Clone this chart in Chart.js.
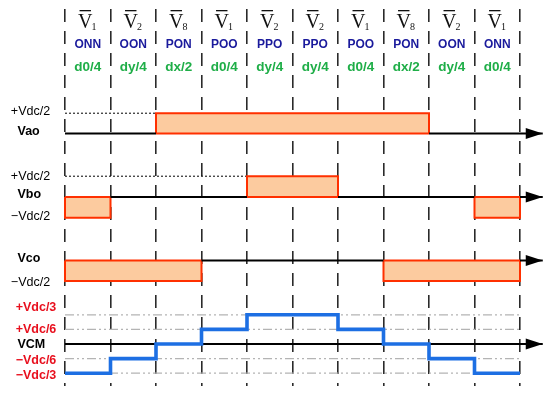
<!DOCTYPE html>
<html>
<head>
<meta charset="utf-8">
<script src="https://cdn.jsdelivr.net/npm/chart.js@4/dist/chart.umd.min.js"></script>
<style>
  html, body { margin: 0; padding: 0; background: #fff; }
  #wrap { position: relative; width: 550px; height: 393px; }
</style>
</head>
<body>
<div id="wrap"><canvas id="chart"></canvas></div>
<script>
// one entry per switching interval, left to right
const vectors = ["1", "2", "8", "1", "2", "2", "1", "8", "2", "1"];
const states = ["ONN", "OON", "PON", "POO", "PPO", "PPO", "POO", "PON", "OON", "ONN"];
const duties = ["d0/4", "dy/4", "dx/2", "d0/4", "dy/4", "dy/4", "d0/4", "dx/2", "dy/4", "d0/4"];

// pole voltages in units of Vdc/2
const vao = [0, 0, 1, 1, 1, 1, 1, 1, 0, 0];
const vbo = [-1, 0, 0, 0, 1, 1, 0, 0, 0, -1];
const vco = [-1, -1, -1, 0, 0, 0, 0, -1, -1, -1];
// common mode voltage in units of Vdc/6
const vcm = [-2, -1, 0, 1, 2, 2, 1, 0, -1, -2];
const vcmLevels = [2, 1, -1, -2];

// layout
const PLOT_LEFT = 65;
const SEG_PX = 45.5;
const PLOT_TOP = 9;
const PLOT_BOTTOM = 386;
const AXIS_END = 10.5;
const ROWS = {
  yA: { base: 133.5, unit: 20.3 },
  yB: { base: 197, unit: 20.8 },
  yC: { base: 260.5, unit: 20.6 },
  yM: { base: 344, unit: 14.6 },
};

const RED = "#ff3000";
const PEACH = "#fccb9f";
const BLUE = "#1d6fe3";
const LABEL_RED = "#e8101e";

const sideLabels = [
  { axis: "yA", value: 1, text: "+Vdc/2", kind: "plain", dy: -2 },
  { axis: "yA", value: 0, text: "Vao", kind: "name", dy: -2 },
  { axis: "yB", value: 1, text: "+Vdc/2", kind: "plain", dy: 0 },
  { axis: "yB", value: 0, text: "Vbo", kind: "name", dy: -2 },
  { axis: "yB", value: -1, text: "\u2212Vdc/2", kind: "plain", dy: -1 },
  { axis: "yC", value: 0, text: "Vco", kind: "name", dy: -2 },
  { axis: "yC", value: -1, text: "\u2212Vdc/2", kind: "plain", dy: 1 },
  { axis: "yM", value: 2, text: "+Vdc/3", kind: "red", dy: -7 },
  { axis: "yM", value: 1, text: "+Vdc/6", kind: "red", dy: 0 },
  { axis: "yM", value: 0, text: "VCM", kind: "name", dy: 1 },
  { axis: "yM", value: -1, text: "\u2212Vdc/6", kind: "red", dy: 1.5 },
  { axis: "yM", value: -2, text: "\u2212Vdc/3", kind: "red", dy: 2.5 },
];

function rowScale(id) {
  const r = ROWS[id];
  return {
    type: "linear",
    display: false,
    min: -(PLOT_BOTTOM - r.base) / r.unit,
    max: (r.base - PLOT_TOP) / r.unit,
  };
}

function line(axis, data, extra) {
  return Object.assign({
    type: "line",
    yAxisID: axis,
    data: data,
    pointRadius: 0,
    tension: 0,
    fill: false,
    clip: false,
    borderWidth: 2,
    borderColor: "#000",
  }, extra);
}

// filled blocks for runs of equal non-zero level
function pulses(levels, axis) {
  const out = [];
  let i = 0;
  while (i < levels.length) {
    const v = levels[i];
    let j = i;
    while (j < levels.length && levels[j] === v) j++;
    if (v !== 0) {
      out.push(line(axis, [{ x: i, y: 0 }, { x: i, y: v }, { x: j, y: v }, { x: j, y: 0 }], {
        borderColor: RED,
        backgroundColor: PEACH,
        fill: { value: 0 },
        order: 4,
      }));
    }
    i = j;
  }
  return out;
}

// black time axis, red where it is the edge of a block
function timeAxis(levels, axis) {
  const pts = levels.map((_, i) => ({ x: i, y: 0 }));
  pts.push({ x: levels.length, y: 0 }, { x: AXIS_END, y: 0 });
  return line(axis, pts, {
    isAxis: true,
    order: 2,
    segment: {
      borderColor: ctx => (levels[ctx.p0DataIndex] ? RED : "#000"),
    },
  });
}

function dottedRef(levels, axis) {
  const stop = levels.indexOf(1);
  return line(axis, [{ x: 0, y: 1 }, { x: stop, y: 1 }], {
    borderWidth: 1,
    borderDash: [2, 2],
    order: 5,
  });
}

const vcmSteps = vcm.map((v, i) => ({ x: i, y: v }));
vcmSteps.push({ x: vcm.length, y: vcm[vcm.length - 1] });

const datasets = [
  line("yM", vcmSteps, { borderColor: BLUE, borderWidth: 3.6, stepped: "before", order: 1 }),
  timeAxis(vao, "yA"),
  timeAxis(vbo, "yB"),
  timeAxis(vco, "yC"),
  timeAxis(vcm.map(() => 0), "yM"),
  ...pulses(vao, "yA"),
  ...pulses(vbo, "yB"),
  ...pulses(vco, "yC"),
  dottedRef(vao, "yA"),
  dottedRef(vbo, "yB"),
  ...vcmLevels.map(v => line("yM", [{ x: 0, y: v }, { x: vcm.length, y: v }], {
    borderColor: "#b4b4b4",
    borderWidth: 1.2,
    borderDash: [9, 3, 2, 3, 2, 3],
    order: 6,
  })),
];

const arrowHeads = {
  id: "arrowHeads",
  afterDatasetsDraw(chart) {
    const ctx = chart.ctx;
    chart.data.datasets.forEach((ds, i) => {
      if (!ds.isAxis) return;
      const pts = chart.getDatasetMeta(i).data;
      const tip = pts[pts.length - 1];
      ctx.save();
      ctx.fillStyle = "#000";
      ctx.beginPath();
      ctx.moveTo(tip.x, tip.y);
      ctx.lineTo(tip.x - 17, tip.y - 5.5);
      ctx.lineTo(tip.x - 17, tip.y + 5.5);
      ctx.closePath();
      ctx.fill();
      ctx.restore();
    });
  },
};

const SANS = "'Liberation Sans', Arial, sans-serif";
const SERIF = "'Liberation Serif', 'Times New Roman', serif";

const textLayer = {
  id: "textLayer",
  afterDraw(chart) {
    const ctx = chart.ctx;
    const x = chart.scales.x;
    ctx.save();
    vectors.forEach((sub, i) => {
      const cx = x.getPixelForValue(i + 0.5);
      // V with overline and subscript
      ctx.font = "20px " + SERIF;
      const w = ctx.measureText("V").width;
      ctx.font = "10px " + SERIF;
      const ws = ctx.measureText(sub).width;
      const left = cx - (w + ws) / 2;
      ctx.fillStyle = "#111";
      ctx.textAlign = "left";
      ctx.textBaseline = "alphabetic";
      ctx.font = "20px " + SERIF;
      ctx.fillText("V", left, 27.5);
      ctx.font = "10px " + SERIF;
      ctx.fillText(sub, left + w - 1, 29.5);
      ctx.fillRect(left + 1.5, 10, w - 3, 1.3);

      ctx.textAlign = "center";
      ctx.textBaseline = "middle";
      ctx.font = "bold 12px " + SANS;
      ctx.fillStyle = "#1a1a9c";
      ctx.fillText(states[i], cx, 45);
      ctx.font = "bold 13.5px " + SANS;
      ctx.fillStyle = "#1fae48";
      ctx.fillText(duties[i], cx, 67);
    });

    ctx.textBaseline = "middle";
    sideLabels.forEach(l => {
      const y = chart.scales[l.axis].getPixelForValue(l.value) + l.dy;
      if (l.kind === "name") {
        ctx.font = "bold 12.5px " + SANS;
        ctx.fillStyle = "#000";
        ctx.textAlign = "left";
        ctx.fillText(l.text, 17.5, y);
      } else if (l.kind === "red") {
        ctx.font = "bold 12.5px " + SANS;
        ctx.fillStyle = LABEL_RED;
        ctx.textAlign = "center";
        ctx.fillText(l.text, 36, y);
      } else {
        ctx.font = "12.5px " + SANS;
        ctx.fillStyle = "#000";
        ctx.textAlign = "center";
        ctx.fillText(l.text, 30.5, y);
      }
    });
    ctx.restore();
  },
};

new Chart(document.getElementById("chart"), {
  type: "line",
  data: { datasets },
  options: {
    responsive: true,
    maintainAspectRatio: false,
    animation: false,
    events: [],
    layout: { padding: { left: PLOT_LEFT, right: 0, top: PLOT_TOP, bottom: 393 - PLOT_BOTTOM } },
    plugins: { legend: { display: false }, tooltip: { enabled: false } },
    scales: {
      x: {
        type: "linear",
        min: 0,
        max: (550 - PLOT_LEFT) / SEG_PX,
        afterBuildTicks: s => { s.ticks = vectors.map((_, i) => ({ value: i })).concat([{ value: vectors.length }]); },
        ticks: { display: false },
        grid: { color: "#2a2a2a", lineWidth: 1.6, drawTicks: false },
        border: { display: false, dash: [13, 9] },
      },
      yA: rowScale("yA"),
      yB: rowScale("yB"),
      yC: rowScale("yC"),
      yM: rowScale("yM"),
    },
  },
  plugins: [arrowHeads, textLayer],
});
</script>
</body>
</html>
